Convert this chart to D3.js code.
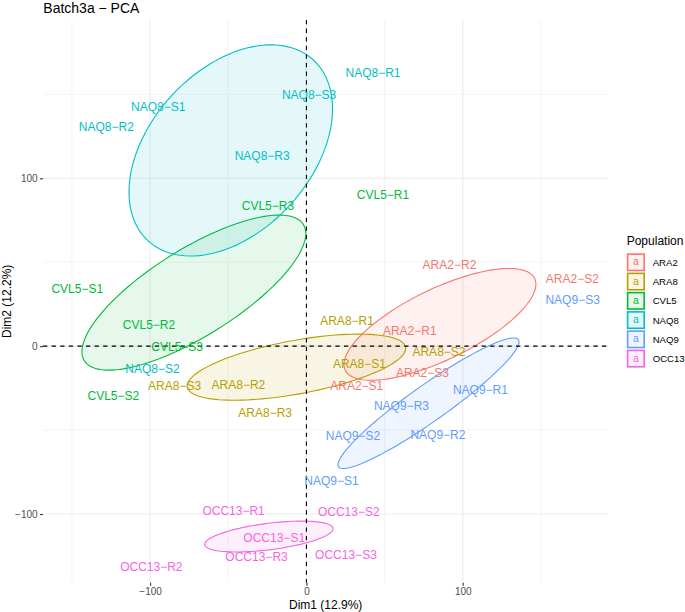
<!DOCTYPE html>
<html>
<head>
<meta charset="utf-8">
<script src="https://cdn.jsdelivr.net/npm/d3@7"></script>
<style>
  html, body { margin: 0; padding: 0; background: #fff; }
  svg { display: block; font-family: "Liberation Sans", Arial, Helvetica, sans-serif; }
</style>
</head>
<body>
<div id="chart"></div>
<script>
// ---------------- data ----------------
const populations = ["ARA2", "ARA8", "CVL5", "NAQ8", "NAQ9", "OCC13"];
const popColors = ["#F8766D", "#B79F00", "#00BA38", "#00BFC4", "#619CFF", "#F564E3"];

const sampleLabels = [
  "NAQ8−R1","NAQ8−S3","NAQ8−S1","NAQ8−R2","NAQ8−R3","NAQ8−S2",
  "CVL5−R3","CVL5−R1","CVL5−S1","CVL5−R2","CVL5−S3","CVL5−S2",
  "ARA8−S3","ARA8−R2","ARA8−R3","ARA8−R1","ARA8−S1","ARA8−S2",
  "ARA2−R2","ARA2−S2","ARA2−R1","ARA2−S3","ARA2−S1",
  "NAQ9−S3","NAQ9−R1","NAQ9−R3","NAQ9−S2","NAQ9−R2","NAQ9−S1",
  "OCC13−R1","OCC13−S2","OCC13−S1","OCC13−R3","OCC13−S3","OCC13−R2"
];
const sampleGroup = [
  "NAQ8","NAQ8","NAQ8","NAQ8","NAQ8","NAQ8",
  "CVL5","CVL5","CVL5","CVL5","CVL5","CVL5",
  "ARA8","ARA8","ARA8","ARA8","ARA8","ARA8",
  "ARA2","ARA2","ARA2","ARA2","ARA2",
  "NAQ9","NAQ9","NAQ9","NAQ9","NAQ9","NAQ9",
  "OCC13","OCC13","OCC13","OCC13","OCC13","OCC13"
];
const dim1 = [
  42.6, 1.7, -94.8, -128.0, -28.3, -98.5,
  -24.6, 49.0, -146.6, -100.7, -82.7, -123.5,
  -84.3, -43.5, -26.4, 26.0, 33.9, 84.8,
  91.5, 170.1, 66.1, 74.2, 32.2,
  170.3, 111.3, 60.8, 29.8, 84.1, 16.0,
  -46.6, 27.1, -20.6, -31.9, 25.3, -99.2
];
const dim2 = [
  163.0, 150.1, 142.5, 130.6, 113.7, -13.3,
  83.5, 90.0, 34.0, 13.1, -0.4, -29.6,
  -23.7, -22.7, -39.8, 14.9, -10.7, -3.2,
  48.5, 40.0, 9.4, -15.9, -23.5,
  27.8, -25.9, -35.4, -53.3, -52.9, -79.9,
  -98.2, -98.6, -114.3, -125.4, -124.5, -131.6
];

// confidence ellipses per population (data units):
// centre, half extent along Dim1, half extent along Dim2, Dim2 offset at the Dim1 extreme
const ellCx = [85.4, -6.4, -72.0, -48.4, 78.1, -24.0];
const ellCy = [13.0, -12.5, 31.9, 116.6, -34.0, -113.4];
const ellHx = [61.4, 69.9, 71.6, 65.1, 57.9, 41.1];
const ellHy = [33.3, 19.7, 46.2, 62.9, 38.9, 9.2];
const ellK  = [23.9, 11.2, 35.2, 24.8, 36.6, 4.65];

const xMajor = [-100, 0, 100];
const xMinor = [-150, -50, 50, 150];
const yMajor = [-100, 0, 100];
const yMinor = [-50, 50, 150];

const titleText = "Batch3a − PCA";
const xTitle = "Dim1 (12.9%)";
const yTitle = "Dim2 (12.2%)";
const legendTitle = "Population";

// ---------------- drawing ----------------
const W = 685, H = 612;
const svg = d3.select("#chart").append("svg").attr("width", W).attr("height", H);

const x = d3.scaleLinear().domain([-168.5, 193.1]).range([43, 608.3]);
const y = d3.scaleLinear().domain([-140.9, 194.3]).range([582.7, 20]);
const color = d3.scaleOrdinal().domain(populations).range(popColors);

const gGrid = svg.append("g");
gGrid.selectAll(".xminor").data(xMinor).join("line")
  .attr("x1", d => x(d)).attr("x2", d => x(d)).attr("y1", y.range()[1]).attr("y2", y.range()[0])
  .attr("stroke", "#EFEFEF").attr("stroke-width", 0.7);
gGrid.selectAll(".yminor").data(yMinor).join("line")
  .attr("y1", d => y(d)).attr("y2", d => y(d)).attr("x1", x.range()[0]).attr("x2", x.range()[1])
  .attr("stroke", "#EFEFEF").attr("stroke-width", 0.7);
gGrid.selectAll(".xmajor").data(xMajor).join("line")
  .attr("x1", d => x(d)).attr("x2", d => x(d)).attr("y1", y.range()[1]).attr("y2", y.range()[0])
  .attr("stroke", "#EBEBEB").attr("stroke-width", 1.1);
gGrid.selectAll(".ymajor").data(yMajor).join("line")
  .attr("y1", d => y(d)).attr("y2", d => y(d)).attr("x1", x.range()[0]).attr("x2", x.range()[1])
  .attr("stroke", "#EBEBEB").attr("stroke-width", 1.1);

// ellipses
const ellData = populations.map((p, i) => {
  const pts = [];
  const n = 120;
  const s = Math.sqrt(Math.max(ellHy[i] * ellHy[i] - ellK[i] * ellK[i], 0));
  for (let j = 0; j < n; j++) {
    const t = 2 * Math.PI * j / n;
    pts.push([ellCx[i] + ellHx[i] * Math.cos(t), ellCy[i] + ellK[i] * Math.cos(t) + s * Math.sin(t)]);
  }
  return { pop: p, pts };
});
const line = d3.line().x(d => x(d[0])).y(d => y(d[1])).curve(d3.curveLinearClosed);
svg.append("g").selectAll("path").data(ellData).join("path")
  .attr("d", d => line(d.pts))
  .attr("fill", d => color(d.pop)).attr("fill-opacity", 0.1)
  .attr("stroke", d => color(d.pop)).attr("stroke-width", 1.1);

// zero lines
svg.append("line").attr("x1", x.range()[0]).attr("x2", x.range()[1]).attr("y1", y(0)).attr("y2", y(0))
  .attr("stroke", "#000").attr("stroke-width", 1.1).attr("stroke-dasharray", "4.3,4.3");
svg.append("line").attr("x1", x(0)).attr("x2", x(0)).attr("y1", y.range()[1]).attr("y2", y.range()[0])
  .attr("stroke", "#000").attr("stroke-width", 1.1).attr("stroke-dasharray", "4.3,4.3");

// labels
svg.append("g").selectAll("text").data(sampleLabels).join("text")
  .attr("x", (d, i) => x(dim1[i])).attr("y", (d, i) => y(dim2[i]))
  .attr("dy", "0.36em").attr("text-anchor", "middle")
  .attr("font-size", 12).attr("fill", (d, i) => color(sampleGroup[i]))
  .text(d => d);

// axes
const xAxis = svg.append("g").attr("transform", `translate(0,${y.range()[0]})`)
  .call(d3.axisBottom(x).tickValues(xMajor).tickSize(3).tickPadding(2.6));
const yAxis = svg.append("g").attr("transform", `translate(${x.range()[0]},0)`)
  .call(d3.axisLeft(y).tickValues(yMajor).tickSize(3).tickPadding(2.4));
[xAxis, yAxis].forEach(g => {
  g.select(".domain").remove();
  g.selectAll(".tick line").attr("stroke", "#333").attr("stroke-width", 1.1);
  g.selectAll(".tick text").attr("fill", "#4D4D4D").attr("font-size", 10)
    .attr("font-family", "'Liberation Sans', Arial, Helvetica, sans-serif");
});

// titles
svg.append("text").attr("x", 43.3).attr("y", 12.6).attr("font-size", 14).attr("fill", "#000").text(titleText);
svg.append("text").attr("x", (x.range()[0] + x.range()[1]) / 2).attr("y", 609.3)
  .attr("text-anchor", "middle").attr("font-size", 12).attr("fill", "#000").text(xTitle);
svg.append("text").attr("transform", `translate(10.8,${(y.range()[0] + y.range()[1]) / 2}) rotate(-90)`)
  .attr("text-anchor", "middle").attr("font-size", 12).attr("fill", "#000").text(yTitle);

// legend
const lg = svg.append("g");
lg.append("text").attr("x", 626.7).attr("y", 244.8).attr("font-size", 12).attr("fill", "#000").text(legendTitle);
const rows = lg.selectAll("g.row").data(populations).join("g")
  .attr("transform", (d, i) => `translate(627,${262.3 + i * 19.26})`);
rows.append("rect").attr("x", 0.6).attr("y", -8.2).attr("width", 16.6).attr("height", 16.4)
  .attr("fill", d => color(d)).attr("fill-opacity", 0.1)
  .attr("stroke", d => color(d)).attr("stroke-width", 1.6);
rows.append("text").attr("x", 8.9).attr("y", 0).attr("dy", "0.3em").attr("text-anchor", "middle")
  .attr("font-size", 10.5).attr("fill", d => color(d)).text("a");
rows.append("text").attr("x", 25.7).attr("y", 0).attr("dy", "0.36em")
  .attr("font-size", 9.6).attr("fill", "#000").text(d => d);
</script>
</body>
</html>
